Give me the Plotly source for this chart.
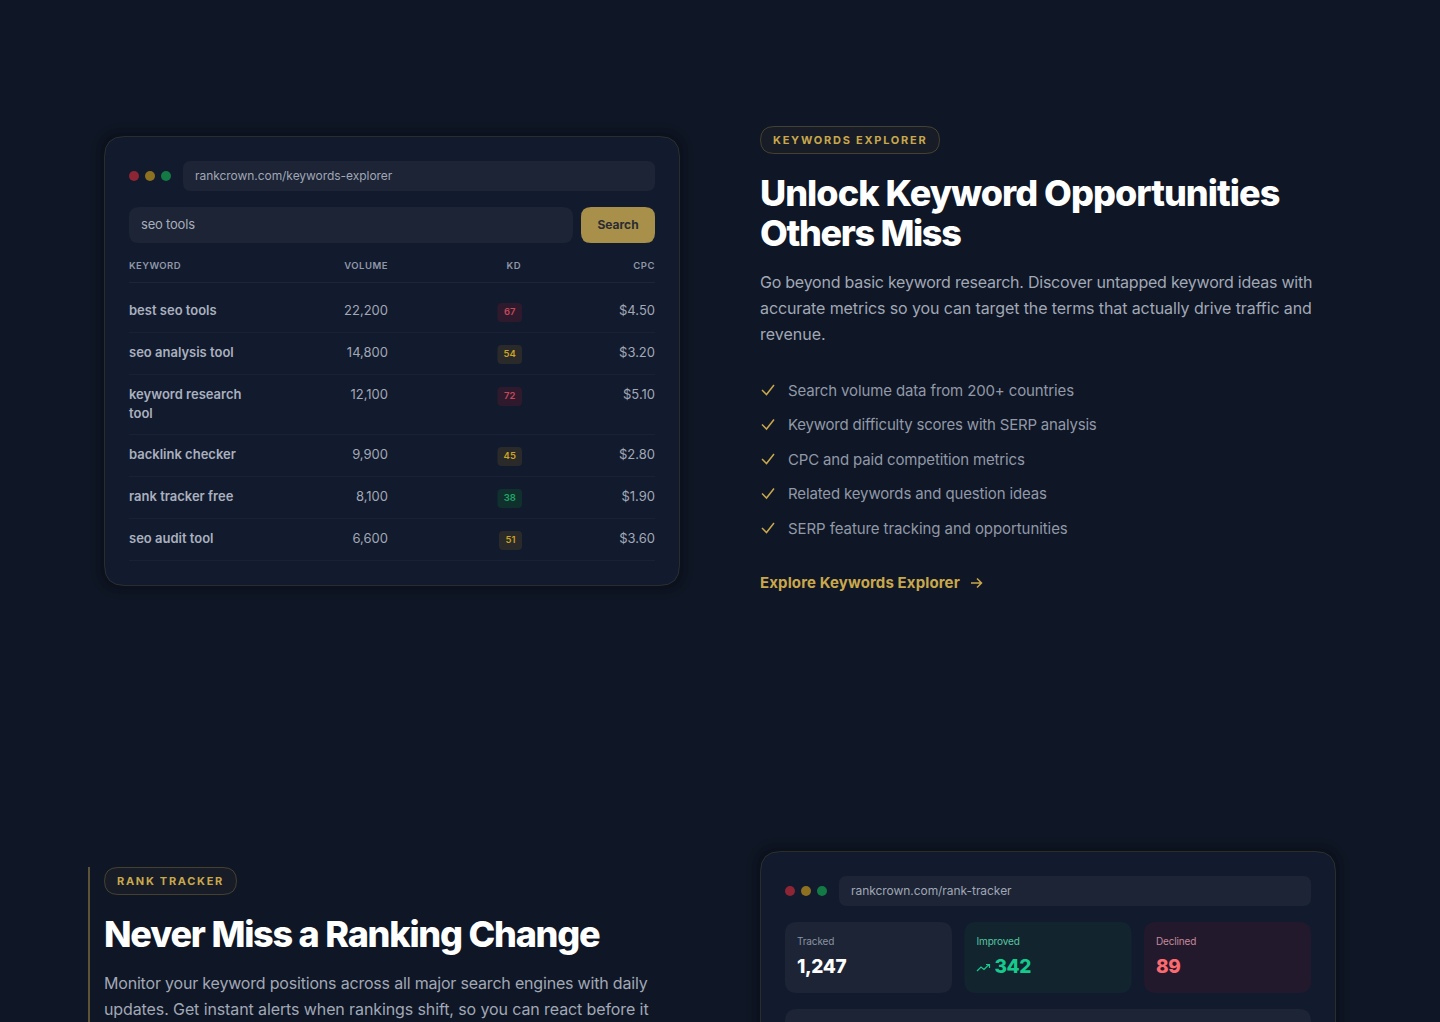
import json
import textwrap
import plotly.graph_objects as go

# table data
COLUMNS = ['KEYWORD', 'VOLUME', 'KD', 'CPC']
KEYWORDS = ['best seo tools', 'seo analysis tool', 'keyword research tool', 'backlink checker', 'rank tracker free', 'seo audit tool']
VOLUMES = [22200, 14800, 12100, 9900, 8100, 6600]
KD_SCORES = [67, 54, 72, 45, 38, 51]
CPC = [4.50, 3.20, 5.10, 2.80, 1.90, 3.60]

FEATURES = ['Search volume data from 200+ countries', 'Keyword difficulty scores with SERP analysis',
            'CPC and paid competition metrics', 'Related keywords and question ideas',
            'SERP feature tracking and opportunities']
HERO_TITLE = ['Unlock Keyword Opportunities', 'Others Miss']
HERO_TEXT = ['Go beyond basic keyword research. Discover untapped keyword ideas with',
             'accurate metrics so you can target the terms that actually drive traffic and', 'revenue.']
RANK_TEXT = ['Monitor your keyword positions across all major search engines with daily',
             'updates. Get instant alerts when rankings shift, so you can react before it']
STAT_LABELS = ['Tracked', 'Improved', 'Declined']
STAT_VALUES = ['1,247', '342', '89']

# tracking per line, the page font runs a bit narrower than Inter
FEATURE_LS = [-0.13, -0.2, -0.16, -0.14, -0.08]
HERO_LS = [-0.24, -0.105, 0]
RANK_LS = [-0.19, -0.105]
TITLE_LS = [-0.96, -1.35]

BG = '#0f1625'
CARD = '#121a2d'
FIELD = '#1c2435'
GOLD = '#c9a84c'
GREY = '#a1a8b6'
FONT = 'Inter'

shapes = []
traces = []
spacing = {}


def rr(x0, y0, x1, y1, r):
    return (f'M{x0+r},{y0} L{x1-r},{y0} Q{x1},{y0} {x1},{y0+r} L{x1},{y1-r} Q{x1},{y1} {x1-r},{y1} '
            f'L{x0+r},{y1} Q{x0},{y1} {x0},{y1-r} L{x0},{y0+r} Q{x0},{y0} {x0+r},{y0} Z')


def box(x0, y0, x1, y1, r, fill, line=None, width=1):
    shapes.append(dict(type='path', path=rr(x0, y0, x1, y1, r), fillcolor=fill,
                       line=dict(color=line or 'rgba(0,0,0,0)', width=width if line else 0), layer='below'))


def stroke(path, color, width=1.5):
    shapes.append(dict(type='path', path=path, line=dict(color=color, width=width), layer='below'))


def hline(x0, x1, y, color):
    shapes.append(dict(type='line', x0=x0, x1=x1, y0=y, y1=y, line=dict(color=color, width=1), layer='below'))


def dot(cx, cy, r, fill):
    shapes.append(dict(type='circle', x0=cx-r, x1=cx+r, y0=cy-r, y1=cy+r, fillcolor=fill, line=dict(width=0), layer='below'))


def label(x, y, s, size, color, weight=400, pos='middle right', ls=0):
    traces.append(go.Scatter(x=[x], y=[y], text=[s], mode='text', textposition=pos, hoverinfo='skip',
                             textfont=dict(family=FONT, size=size, color=color, weight=weight)))
    if ls:
        spacing[s] = ls


def window(x, y, url):
    # rounded mockup card with the three browser dots and the url bar
    for grow, alpha in ((14, 0.03), (9, 0.05), (4, 0.07)):
        box(x-grow, y-grow, x+575+grow, y+449+grow, 20+grow, f'rgba(0,0,0,{alpha})')
    box(x, y, x+575, y+449, 20, CARD, 'rgba(201,168,76,0.16)')
    for dx, c in ((29.5, '#8e2534'), (45.5, '#8d7020'), (61.5, '#137a45')):
        dot(x+dx, y+39.5, 5, c)
    box(x+78.5, y+24.5, x+550.5, y+54.5, 8, FIELD)
    label(x+90.5, y+40.5, url, 12, '#a0a7b5', ls=-0.05)


def pill(x0, x1, y0, text, ls):
    box(x0, y0, x1, y0+27, 13.5, '#171c27', 'rgba(201,168,76,0.28)')
    label(x0+12.5, y0+14.5, text, 11, GOLD, 700, ls=ls)


# keywords explorer mockup
window(104.5, 136.5, 'rankcrown.com/keywords-explorer')
box(129, 207, 573, 243, 10, FIELD)
label(141, 226, 'seo tools', 13, '#a7aebb', ls=-0.2)
box(581, 207, 655, 243, 10, '#a8904a')
label(618, 225.5, 'Search', 12, '#2a2c33', 700, pos='middle center')

label(129, 267, COLUMNS[0], 9.5, '#8f97a8', 600, ls=0.4)
label(388, 267, COLUMNS[1], 9.5, '#8f97a8', 600, pos='middle left', ls=0.5)
label(521, 267, COLUMNS[2], 9.5, '#8f97a8', 600, pos='middle left', ls=0.5)
label(655, 267, COLUMNS[3], 9.5, '#8f97a8', 600, pos='middle left', ls=0.5)
hline(129, 655, 282.5, '#1d2537')

row_end = 282.5
for i, kw in enumerate(KEYWORDS):
    lines = textwrap.wrap(kw, 17)
    height = (50 if i == 0 else 42) + 18 * (len(lines) - 1)
    row_end += height
    y = row_end - 21.5 - 18 * (len(lines) - 1)
    for n, part in enumerate(lines):
        label(129, y + 1 + 18.5 * n, part, 13, '#a9b0bf', 600)
    label(388, y + 1, f'{VOLUMES[i]:,}', 13, '#a1a8b6', pos='middle left')
    label(655, y + 1, f'${CPC[i]:.2f}', 13, '#a1a8b6', pos='middle left')
    kd = KD_SCORES[i]
    if kd >= 60:
        fill, ink = '#2e1a2c', '#c2485a'
    elif kd >= 40:
        fill, ink = '#2a2a2a', '#c9a227'
    else:
        fill, ink = '#10302e', '#1fa868'
    w = 23 if '1' in str(kd) else 24.5
    box(522-w, y-8, 522, y+11, 4, fill)
    label(522-w/2, y+1.5, str(kd), 9.5, ink, 600, pos='middle center')
    hline(129, 655, row_end, '#1a2134')

# right column
pill(760.5, 939.5, 126.5, 'KEYWORDS EXPLORER', 1.75)
for i, s in enumerate(HERO_TITLE):
    label(760, 197 + 40*i, s, 36, '#ffffff', 800, ls=TITLE_LS[i])
for i, s in enumerate(HERO_TEXT):
    label(760, 283.5 + 26*i, s, 16, GREY, ls=HERO_LS[i])
for i, s in enumerate(FEATURES):
    y = 392 + 34.5*i
    stroke(f'M762,{y-2} L766.5,{y+2.5} L774,{y-7}', '#c9a84c')
    label(788, y, s, 15, '#9199a8', ls=FEATURE_LS[i])
label(760, 584, 'Explore Keywords Explorer', 15, GOLD, 700, ls=0.12)
stroke('M971,583 L981,583 M977,578.5 L981.5,583 L977,587.5', GOLD)

# rank tracker section
shapes.append(dict(type='line', x0=89, x1=89, y0=867, y1=1022, line=dict(color='#5d5338', width=2), layer='below'))
pill(104.5, 236.5, 867.5, 'RANK TRACKER', 1.7)
label(104, 938, 'Never Miss a Ranking Change', 36, '#ffffff', 800, ls=-1.22)
for i, s in enumerate(RANK_TEXT):
    label(104, 985 + 26*i, s, 16, GREY, ls=RANK_LS[i])

window(760.5, 851.5, 'rankcrown.com/rank-tracker')
stat_fill = [FIELD, '#12252f', '#23192c']
stat_label = ['#8b93a3', '#56c5a0', '#c58a9c']
stat_value = ['#ffffff', '#16c98d', '#fb6a6f']
stat_left = [785, 964.5, 1144]
for i in range(3):
    box(stat_left[i], 922, stat_left[i]+167, 993, 12, stat_fill[i])
    label(stat_left[i]+12, 942, STAT_LABELS[i], 10, stat_label[i], ls=-0.15)
    label(stat_left[i]+12 + (18 if i == 1 else 0), 968, STAT_VALUES[i], 19, stat_value[i], 800, ls=-0.4)
stroke('M977,971 L981,967 L984,969.5 L989,964.5 M986,964.5 L989.5,964.5 L989.5,968', '#16c98d', 1.2)
box(785, 1009, 1311, 1060, 12, FIELD)

fig = go.Figure(traces)
fig.update_layout(width=1440, height=1022, margin=dict(l=0, r=0, t=0, b=0), showlegend=False,
                  paper_bgcolor=BG, plot_bgcolor=BG, shapes=shapes,
                  xaxis=dict(range=[0, 1440], visible=False, fixedrange=True),
                  yaxis=dict(range=[1022, 0], visible=False, fixedrange=True))

# plotly has no letter spacing option, so it is set on the svg text after drawing
post = ("document.body.style.margin='0';document.body.style.overflow='hidden';"
        "var ls=" + json.dumps(spacing) + ";"
        "document.querySelectorAll('.textpoint text').forEach(function(t){"
        "if(ls[t.textContent]!==undefined){t.style.letterSpacing=ls[t.textContent]+'px';}});")
fig.write_html('out.html', post_script=post, config=dict(displayModeBar=False))
